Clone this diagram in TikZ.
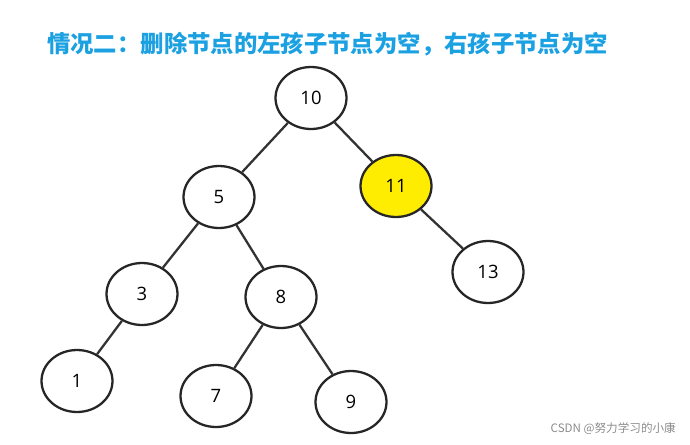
\documentclass[tikz,border=0pt]{standalone}
\usepackage{fontspec}
\setmainfont{Open Sans}
\newfontfamily\cjk{Noto Sans CJK SC}
\usetikzlibrary{shapes.geometric}
\definecolor{titleblue}{HTML}{1BA1E2}

\begin{document}
\begin{tikzpicture}[x=0.02cm,y=-0.02cm,font=\fontsize{10.5}{12}\selectfont,
  nd/.style={draw=black!85,line width=1.3pt,ellipse,fill=white,minimum width=1.42cm,minimum height=1.24cm,inner sep=0pt}]
  \useasboundingbox (0,0) rectangle (690,444);
  \node[anchor=west,text=titleblue,font=\cjk\bfseries\fontsize{13.3}{15}\selectfont] (title) at (41,44) {情况二：删除节点的左孩子节点为空，右孩子节点为空};
  \node[nd] (n10) at (311,98) {10};
  \node[nd] (n5) at (219,197) {5};
  \node[nd,fill=yellow!95!orange] (n11) at (396,186) {11};
  \node[nd] (n3) at (142,294) {3};
  \node[nd] (n8) at (281,297) {8};
  \node[nd] (n13) at (488,272) {13};
  \node[nd] (n1) at (77,381) {1};
  \node[nd] (n7) at (216,396) {7};
  \node[nd] (n9) at (351,402) {9};
  \foreach \a/\b in {n10/n5,n10/n11,n11/n13,n5/n3,n5/n8,n3/n1,n8/n7,n8/n9}
    \draw[line width=1.3pt,black!80] (\a)--(\b);
  \node[anchor=east,text=black!45,font=\cjk\fontsize{6.6}{8}\selectfont] (mark) at (682,429) {CSDN @努力学习的小康};
\end{tikzpicture}
\end{document}
